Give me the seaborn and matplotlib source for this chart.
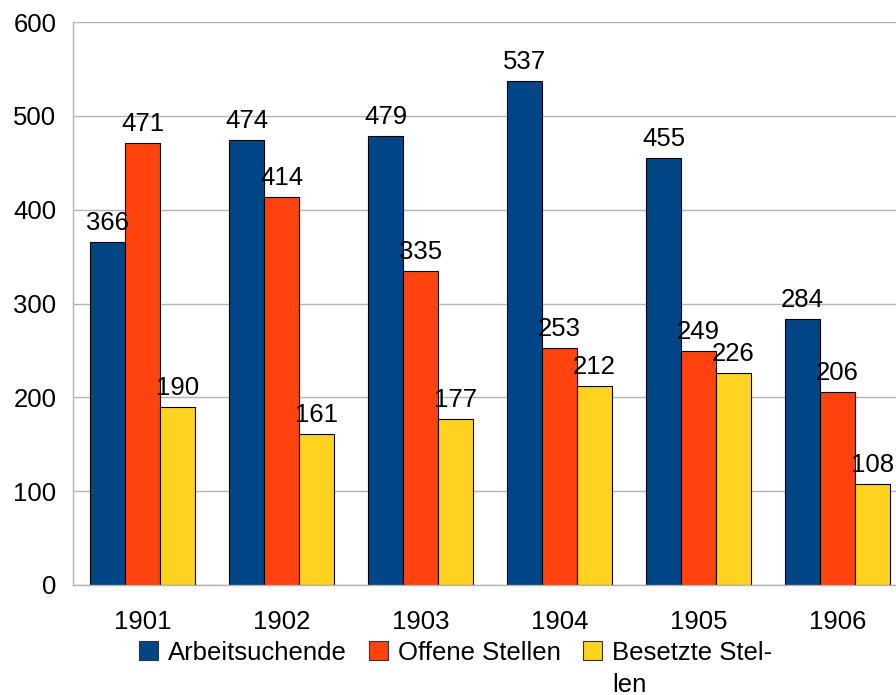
import numpy as np
import pandas as pd
import matplotlib.pyplot as plt
import matplotlib.offsetbox as obox
import seaborn as sns

jahre = ['1901', '1902', '1903', '1904', '1905', '1906']
arbeitsuchende = [366, 474, 479, 537, 455, 284]
offene_stellen = [471, 414, 335, 253, 249, 206]
besetzte_stellen = [190, 161, 177, 212, 226, 108]
reihen = ['Arbeitsuchende', 'Offene Stellen', 'Besetzte Stellen']
legend_labels = ['Arbeitsuchende', 'Offene Stellen', 'Besetzte Stel-\nlen']
farben = ['#004586', '#ff420e', '#ffd320']

df = pd.DataFrame({
    'Jahr': jahre * 3,
    'Wert': arbeitsuchende + offene_stellen + besetzte_stellen,
    'Reihe': [r for r in reihen for _ in jahre],
})

sns.set_style('white')
plt.rcParams['font.family'] = ['Liberation Sans', 'DejaVu Sans']
plt.rcParams['text.color'] = 'black'
plt.rcParams['xtick.labelcolor'] = 'black'
plt.rcParams['ytick.labelcolor'] = 'black'
fs = 18.5

fig = plt.figure(figsize=(8.96, 6.95), dpi=100)
ax = fig.add_axes([73 / 896, 110 / 695, 834 / 896, 563 / 695])

sns.barplot(data=df, x='Jahr', y='Wert', hue='Reihe', palette=farben,
            width=0.755, saturation=1, edgecolor='black', linewidth=0.8,
            ax=ax, legend=False)

for cont in ax.containers:
    ax.bar_label(cont, padding=5, fontsize=fs, color='black')

ax.set_ylim(0, 600)
ax.set_xlim(-0.5, 5.5)
ax.set_yticks(range(0, 601, 100))
ax.yaxis.grid(True, color='#b3b3b3', linewidth=1)
ax.set_axisbelow(True)
ax.tick_params(axis='y', length=8, color='#b3b3b3', labelsize=fs, pad=4)
ax.tick_params(axis='x', which='major', length=0, labelsize=fs, pad=18)
ax.set_xticks(np.arange(-0.5, 6, 1), minor=True)
ax.tick_params(axis='x', which='minor', length=7, color='#b3b3b3')
ax.set_xlabel('')
ax.set_ylabel('')
for s in ['top', 'right']:
    ax.spines[s].set_visible(False)
for s in ['left', 'bottom']:
    ax.spines[s].set_color('#b3b3b3')
    ax.spines[s].set_linewidth(1)

handles = [plt.Rectangle((0, 0), 1, 1, facecolor=c, edgecolor='#333333', linewidth=0.8)
           for c in farben]
leg = fig.legend(handles, legend_labels, loc='upper left', bbox_to_anchor=(139 / 896, 54 / 695),
                 ncol=3, frameon=False, fontsize=fs, handlelength=0.75, handleheight=0.75,
                 handletextpad=0.39, columnspacing=0.85, borderaxespad=0, borderpad=0)
for t in leg.get_texts():
    t.set_linespacing(1.4)
for hp in leg.findobj(obox.HPacker):
    hp.align = 'top'

fig.savefig('out.png', dpi=100)
